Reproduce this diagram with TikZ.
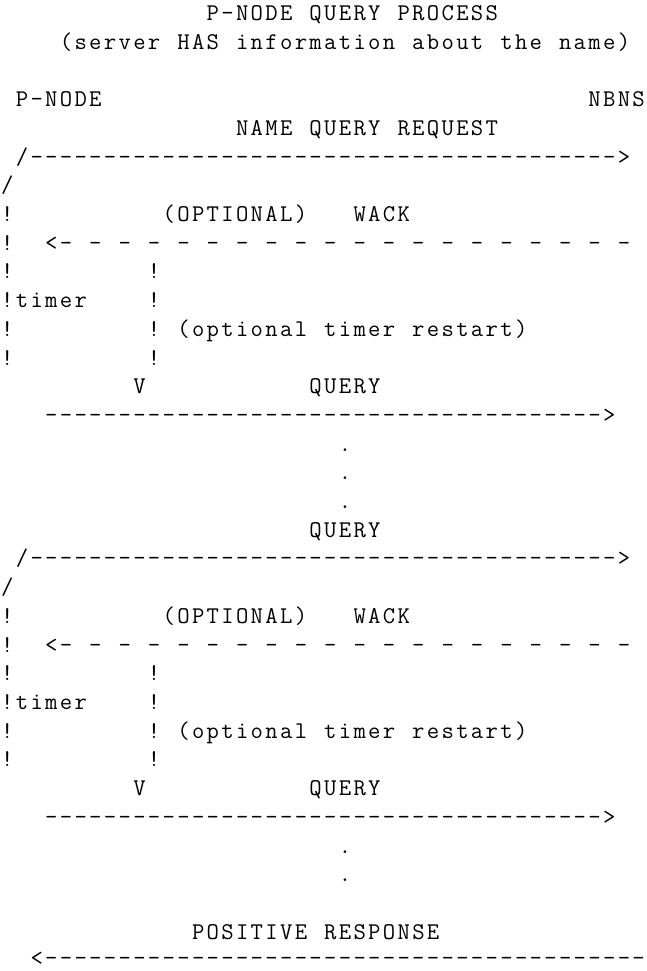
\documentclass[tikz,border=0pt]{standalone}
\ExplSyntaxOn
\dim_new:N \g_asc_cw_dim
\dim_gset:Nn \g_asc_cw_dim {14.6818pt}
\cs_new:Npn \repchar #1#2 { \prg_replicate:nn {#1} {#2} }
\NewDocumentCommand \ascii { m }
  { \exp_args:Ne \str_map_inline:nn {#1} { \makebox[\g_asc_cw_dim][c]{##1} } }
\ExplSyntaxOff
\tikzset{txt/.style={anchor=base west, inner sep=0pt, outer sep=0pt,
  font=\ttfamily\fontsize{24}{28}\selectfont, text=black}}
\newcommand\asciirow[4]{\node[txt] (#1) at ({#2*14.6818pt},{-(20.5+28.71*#3)*1pt}) {\ascii{#4}};}
\begin{document}
\begin{tikzpicture}
\fill[white] (0,0) rectangle (646pt,-971pt);
\useasboundingbox (0,0) rectangle (646pt,-971pt);
\asciirow{title}{14}{0}{P-NODE QUERY PROCESS}
\asciirow{sub}{4}{1}{(server HAS information about the name)}
\asciirow{pnode}{1}{3}{P-NODE}
\asciirow{nbns}{40}{3}{NBNS}
\asciirow{nqr}{16}{4}{NAME QUERY REQUEST}
% first cycle
\asciirow{aA}{1}{5}{/\repchar{40}{-}>}
\asciirow{sA}{0}{6}{/}
\asciirow{bA1}{0}{7}{!}
\asciirow{optA}{11}{7}{(OPTIONAL)}
\asciirow{wackA}{24}{7}{WACK}
\asciirow{bA2}{0}{8}{!}
\asciirow{wA}{3}{8}{<-\repchar{19}{ -}}
\asciirow{bA3}{0}{9}{!}
\asciirow{cA3}{10}{9}{!}
\asciirow{tA}{0}{10}{!timer}
\asciirow{cA4}{10}{10}{!}
\asciirow{bA5}{0}{11}{!}
\asciirow{cA5}{10}{11}{! (optional timer restart)}
\asciirow{bA6}{0}{12}{!}
\asciirow{cA6}{10}{12}{!}
\asciirow{vA}{9}{13}{V}
\asciirow{qA}{21}{13}{QUERY}
\asciirow{rA}{3}{14}{\repchar{38}{-}>}
\asciirow{d1}{23}{15}{.}
\asciirow{d2}{23}{16}{.}
\asciirow{d3}{23}{17}{.}
\asciirow{q2}{21}{18}{QUERY}
% second cycle
\asciirow{aB}{1}{19}{/\repchar{40}{-}>}
\asciirow{sB}{0}{20}{/}
\asciirow{bB1}{0}{21}{!}
\asciirow{optB}{11}{21}{(OPTIONAL)}
\asciirow{wackB}{24}{21}{WACK}
\asciirow{bB2}{0}{22}{!}
\asciirow{wB}{3}{22}{<-\repchar{19}{ -}}
\asciirow{bB3}{0}{23}{!}
\asciirow{cB3}{10}{23}{!}
\asciirow{tB}{0}{24}{!timer}
\asciirow{cB4}{10}{24}{!}
\asciirow{bB5}{0}{25}{!}
\asciirow{cB5}{10}{25}{! (optional timer restart)}
\asciirow{bB6}{0}{26}{!}
\asciirow{cB6}{10}{26}{!}
\asciirow{vB}{9}{27}{V}
\asciirow{qB}{21}{27}{QUERY}
\asciirow{rB}{3}{28}{\repchar{38}{-}>}
\asciirow{d4}{23}{29}{.}
\asciirow{d5}{23}{30}{.}
\asciirow{pos}{13}{32}{POSITIVE RESPONSE}
\asciirow{resp}{2}{32.9}{<\repchar{41}{-}}
\end{tikzpicture}
\end{document}
